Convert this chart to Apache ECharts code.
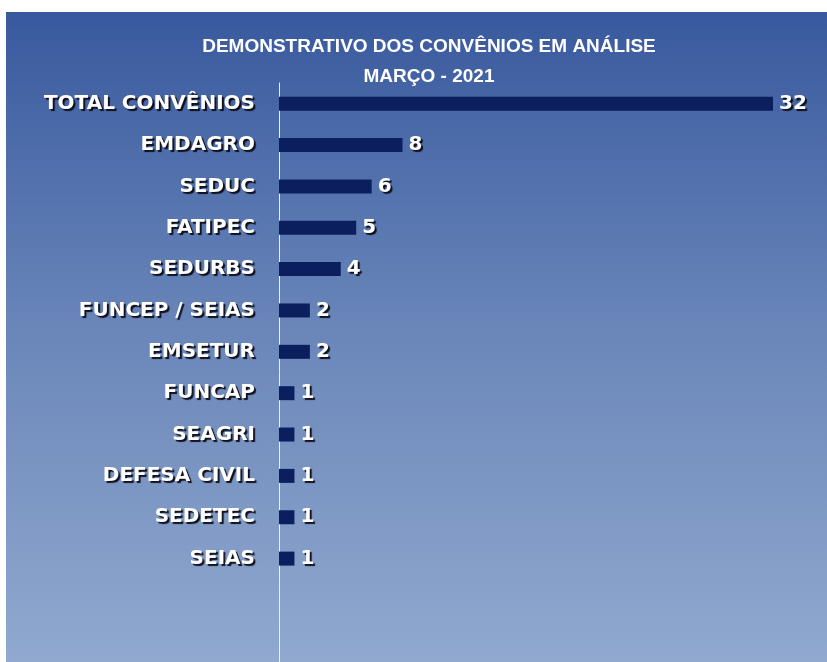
<!DOCTYPE html>
<html>
<head>
<meta charset="utf-8">
<script src="https://cdn.jsdelivr.net/npm/echarts@6/dist/echarts.min.js"></script>
<style>
  html, body { margin: 0; padding: 0; background: #fff; }
  #chart { width: 827px; height: 662px; }
</style>
</head>
<body>
<div id="chart"></div>
<script>
// categories top to bottom (two empty rows at the bottom, as in the sheet)
var categories = [
  "TOTAL CONVÊNIOS", "EMDAGRO", "SEDUC", "FATIPEC", "SEDURBS",
  "FUNCEP / SEIAS", "EMSETUR", "FUNCAP", "SEAGRI", "DEFESA CIVIL",
  "SEDETEC", "SEIAS", "", ""
];
var values = [32, 8, 6, 5, 4, 2, 2, 1, 1, 1, 1, 1, null, null];
var titleLines = ["DEMONSTRATIVO DOS CONVÊNIOS EM ANÁLISE", "MARÇO - 2021"];

var chartDom = document.getElementById("chart");
var myChart = echarts.init(chartDom);

var shadowText = {
  color: "#ffffff",
  fontFamily: "DejaVu Sans, Arial, sans-serif",
  fontWeight: "bold",
  fontSize: 20,
  textShadowColor: "rgba(10,10,20,0.95)",
  textShadowOffsetX: 2,
  textShadowOffsetY: 2,
  textShadowBlur: 1
};

var option = {
  backgroundColor: "#ffffff",
  animation: false,
  graphic: [
    {
      type: "rect",
      z: -10,
      silent: true,
      shape: { x: 6, y: 12, width: 821, height: 650 },
      style: {
        fill: new echarts.graphic.LinearGradient(0, 0, 0, 1, [
          { offset: 0, color: "#38599e" },
          { offset: 0.5, color: "#6b87ba" },
          { offset: 1, color: "#91a9cf" }
        ])
      }
    }
  ],
  title: {
    text: titleLines.join("\n"),
    left: 424,
    textAlign: "center",
    top: 27,
    textStyle: {
      color: "#ffffff",
      fontFamily: "Liberation Sans, Arial, sans-serif",
      fontWeight: "bold",
      fontSize: 19,
      lineHeight: 30
    }
  },
  grid: { left: 279, right: 54, top: 83, bottom: 0, containLabel: false },
  xAxis: {
    type: "value",
    min: 0,
    max: 32,
    show: false
  },
  yAxis: {
    type: "category",
    inverse: true,
    data: categories,
    axisLine: { show: true, lineStyle: { color: "#e8eef8", width: 1 } },
    axisTick: { show: false },
    axisLabel: Object.assign({ margin: 24 }, shadowText)
  },
  series: [
    {
      type: "bar",
      data: values,
      barWidth: 14,
      itemStyle: { color: "#0b1f5e" },
      label: Object.assign({
        show: true,
        position: "right",
        distance: 6
      }, shadowText)
    }
  ]
};

option && myChart.setOption(option);
</script>
</body>
</html>
